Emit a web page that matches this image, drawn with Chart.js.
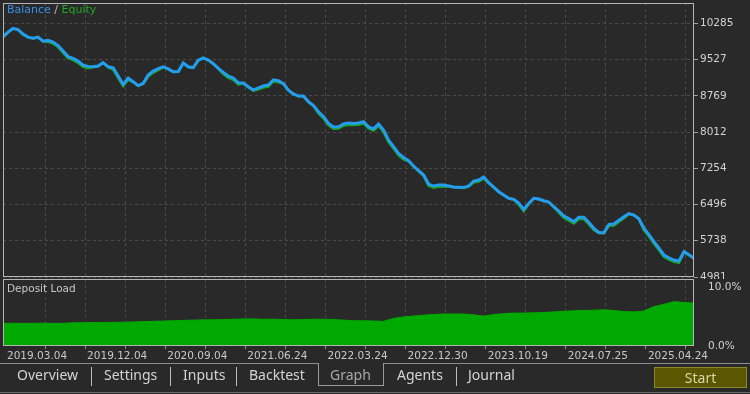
<!DOCTYPE html>
<html>
<head>
<meta charset="utf-8">
<title>Graph</title>
<script src="https://cdn.jsdelivr.net/npm/chart.js@4.4.1/dist/chart.umd.min.js"></script>
<style>
    body {
        margin: 0;
        width: 750px;
        height: 394px;
        overflow: hidden;
        position: relative;
        background: #292929;
        font-family: "Noto Sans", sans-serif;
    }
    #main { position: absolute; left: 0; top: 0; }
    #load { position: absolute; left: 0; top: 279px; background: #292929; }
    .caption { position: absolute; font-family: "DejaVu Sans"; white-space: nowrap; }
    .tab { position: absolute; top: 365px; font-size: 14px; line-height: 20px; color: #d4d4d4; white-space: nowrap; }
    .sep { position: absolute; top: 367px; width: 1px; height: 19px; background: #bdbdbd; }
    #tabline { position: absolute; left: 0; top: 363px; width: 750px; height: 1px; background: #8c8c8c; }
    #graphtab { position: absolute; left: 318px; top: 363px; width: 64px; height: 22px; border: 1px solid #9a9a9a; border-top: none; background: #292929; }
    #bottomline { position: absolute; left: 0; top: 392px; width: 750px; height: 1px; background: #6a6a6a; }
    #start { position: absolute; left: 654px; top: 367px; width: 91px; height: 19px; background: #5a5700; border: 1px solid #8e8b26;
             color: #d9d6a8; font-size: 14px; line-height: 19px; text-align: center; }
</style>
</head>
<body>
<canvas id="main" width="750" height="280"></canvas>
<canvas id="load" width="750" height="80"></canvas>

<div class="caption" style="left:7px; top:3px; font-size:11px;">
    <span style="color:#3b8fe2">Balance</span><span style="color:#bdbdbd"> / </span><span style="color:#22a822">Equity</span>
</div>
<div class="caption" style="left:7px; top:282px; font-size:10.5px; color:#c8c8c8;">Deposit Load</div>

<div id="tabline"></div>
<div id="graphtab"></div>
<span class="tab" style="left:17px">Overview</span>
<div class="sep" style="left:91px"></div>
<span class="tab" style="left:104px">Settings</span>
<div class="sep" style="left:170px"></div>
<span class="tab" style="left:183px">Inputs</span>
<div class="sep" style="left:236px"></div>
<span class="tab" style="left:249px">Backtest</span>
<span class="tab" style="left:330px; color:#a8a8a8">Graph</span>
<span class="tab" style="left:397px">Agents</span>
<div class="sep" style="left:456px"></div>
<span class="tab" style="left:468px">Journal</span>
<div id="start">Start</div>
<div id="bottomline"></div>

<script>
    // balance curve, one value per step
    const balance = [
        10003, 10102, 10179, 10154, 10060, 9997, 9976, 9997, 9913, 9928,
        9893, 9819, 9704, 9589, 9552, 9495, 9412, 9385, 9376, 9391,
        9464, 9376, 9355, 9182, 9008, 9140, 9063, 8983, 9029, 9203,
        9286, 9339, 9376, 9332, 9272, 9276, 9454, 9376, 9360, 9516,
        9564, 9516, 9443, 9343, 9259, 9182, 9140, 9042, 9036, 8958,
        8889, 8937, 8973, 8994, 9105, 9084, 9025, 8889, 8810, 8764,
        8764, 8645, 8565, 8436, 8335, 8193, 8116, 8122, 8179, 8200,
        8193, 8200, 8227, 8122, 8078, 8179, 8053, 7844, 7708, 7566,
        7479, 7412, 7301, 7203, 7113, 6925, 6883, 6904, 6904, 6883,
        6862, 6856, 6850, 6883, 6987, 7008, 7071, 6952, 6858, 6764,
        6695, 6626, 6605, 6528, 6396, 6517, 6626, 6611, 6576, 6549,
        6450, 6360, 6256, 6202, 6137, 6229, 6229, 6122, 5999, 5913,
        5907, 6082, 6089, 6166, 6241, 6306, 6277, 6200, 5999, 5869,
        5719, 5583, 5441, 5380, 5336, 5315, 5510, 5445, 5372
    ];

    // equity: mostly on the balance, dipping just under it in places
    const equity = [
        9998, 10097, 10174, 10149, 10055, 9992, 9971, 9992, 9908, 9898,
        9863, 9789, 9674, 9559, 9517, 9460, 9377, 9350, 9371, 9386,
        9459, 9371, 9320, 9147, 8973, 9105, 9058, 8978, 9024, 9173,
        9256, 9309, 9371, 9327, 9267, 9271, 9449, 9371, 9355, 9511,
        9559, 9511, 9438, 9338, 9224, 9147, 9105, 9007, 9026, 8948,
        8879, 8907, 8943, 8964, 9075, 9054, 9020, 8884, 8805, 8759,
        8759, 8640, 8560, 8401, 8300, 8158, 8081, 8087, 8144, 8165,
        8158, 8165, 8192, 8087, 8043, 8144, 8013, 7804, 7668, 7526,
        7439, 7402, 7291, 7193, 7103, 6890, 6848, 6869, 6869, 6878,
        6857, 6851, 6845, 6878, 6957, 6978, 7041, 6947, 6853, 6759,
        6690, 6621, 6600, 6493, 6361, 6512, 6621, 6606, 6571, 6544,
        6445, 6325, 6221, 6167, 6102, 6194, 6194, 6087, 5964, 5903,
        5897, 6052, 6059, 6136, 6211, 6301, 6272, 6195, 5964, 5834,
        5684, 5548, 5406, 5345, 5301, 5280, 5505, 5440, 5367
    ];

    // deposit load in %, one value every two steps
    const depositLoad = [
        3.85, 3.85, 3.85, 3.85, 3.88, 3.85, 3.85, 3.95, 3.95, 3.98,
        4.0, 4.02, 4.05, 4.1, 4.15, 4.2, 4.25, 4.3, 4.35, 4.4,
        4.45, 4.45, 4.5, 4.55, 4.6, 4.6, 4.55, 4.55, 4.5, 4.45,
        4.5, 4.55, 4.55, 4.5, 4.4, 4.3, 4.3, 4.25, 4.2, 4.7,
        4.95, 5.1, 5.25, 5.35, 5.45, 5.45, 5.45, 5.3, 5.1, 5.35,
        5.5, 5.6, 5.6, 5.65, 5.7, 5.8, 5.9, 6.0, 6.05, 6.1,
        6.15, 6.05, 5.85, 5.8, 5.95, 6.7, 7.1, 7.55, 7.4, 7.3
    ];

    const yTickValues = [4981, 5738.7, 6496.4, 7254.1, 8011.9, 8769.6, 9527.3, 10285];
    const yTickLabels = ['4981', '5738', '6496', '7254', '8012', '8769', '9527', '10285'];
    const loadTickValues = [0, 10];
    const loadTickLabels = ['0.0%', '10.0%'];
    const dateLabels = ['2019.03.04', '2019.12.04', '2020.09.04', '2021.06.24', '2022.03.24',
                        '2022.12.30', '2023.10.19', '2024.07.25', '2025.04.24'];

    // vertical grid every 8 steps, dates on every second line
    const gridSteps = [];
    for (let k = 0; k < 17; k++) gridSteps.push(8.4 + 8 * k);

    const lastStep = balance.length - 1;
    const gridColor = '#4a4a4a';
    const axisFont = { family: 'DejaVu Sans', size: 10.5 };

    // keep chart areas exactly where the panels are
    function fixWidth(s) { s.width = 56; s.paddingTop = 0; s.paddingBottom = 0; }
    function fixHeight(h) {
        return s => { s.height = h; s.paddingLeft = 0; s.paddingRight = 0; };
    }

    // light frame round each panel
    const frame = {
        id: 'frame',
        afterDraw(chart) {
            const { ctx, chartArea: a } = chart;
            ctx.save();
            ctx.strokeStyle = '#b5b5b5';
            ctx.lineWidth = 1;
            ctx.strokeRect(a.left + 0.5, a.top + 0.5, a.right - a.left - 1, a.bottom - a.top - 1);
            ctx.restore();
        }
    };

    // first dataset is painted last, so balance goes first to sit on top
    new Chart(document.getElementById('main'), {
        type: 'line',
        data: {
            datasets: [
                {
                    label: 'Balance',
                    data: balance.map((v, i) => ({ x: i, y: v })),
                    borderColor: '#249cf0',
                    borderWidth: 3,
                    pointRadius: 0
                },
                {
                    label: 'Equity',
                    data: equity.map((v, i) => ({ x: i, y: v })),
                    borderColor: '#19a319',
                    borderWidth: 2.6,
                    pointRadius: 0
                }
            ]
        },
        options: {
            responsive: false,
            animation: false,
            events: [],
            layout: { padding: { left: 3, top: 3, right: 0, bottom: 3 } },
            plugins: { legend: { display: false }, tooltip: { enabled: false } },
            scales: {
                x: {
                    type: 'linear',
                    min: 0,
                    max: lastStep,
                    afterBuildTicks: s => { s.ticks = gridSteps.map(v => ({ value: v })); },
                    afterFit: fixHeight(0),
                    ticks: { display: false },
                    grid: { color: gridColor, drawTicks: false },
                    border: { display: false, dash: [3, 3] }
                },
                y: {
                    position: 'right',
                    min: 4981,
                    max: 10710,
                    afterBuildTicks: s => { s.ticks = yTickValues.map(v => ({ value: v })); },
                    afterFit: fixWidth,
                    ticks: {
                        color: '#d2d2d2',
                        font: axisFont,
                        padding: 2,
                        autoSkip: false,
                        callback: (v, i) => yTickLabels[i]
                    },
                    grid: { color: gridColor, tickColor: '#9a9a9a', tickLength: 4 },
                    border: { display: false, dash: [3, 3] }
                }
            }
        },
        plugins: [frame]
    });

    new Chart(document.getElementById('load'), {
        type: 'line',
        data: {
            datasets: [{
                label: 'Deposit Load',
                data: depositLoad.map((v, j) => ({ x: j * 2, y: v })),
                fill: 'origin',
                backgroundColor: '#00a900',
                borderColor: '#00a900',
                borderWidth: 1,
                pointRadius: 0
            }]
        },
        options: {
            responsive: false,
            animation: false,
            events: [],
            layout: { padding: { left: 3, top: 0, right: 0, bottom: 0 } },
            plugins: { legend: { display: false }, tooltip: { enabled: false } },
            scales: {
                x: {
                    type: 'linear',
                    min: 0,
                    max: lastStep,
                    afterBuildTicks: s => { s.ticks = gridSteps.map(v => ({ value: v })); },
                    afterFit: fixHeight(13),
                    ticks: {
                        color: '#c8c8c8',
                        font: axisFont,
                        padding: 1,
                        maxRotation: 0,
                        autoSkip: false,
                        labelOffset: -8,
                        callback: (v, i) => (i % 2 === 0 ? dateLabels[i / 2] : '')
                    },
                    grid: { color: gridColor, tickColor: '#8a8a8a', tickLength: 3 },
                    border: { display: false, dash: [3, 3] }
                },
                y: {
                    position: 'right',
                    min: 0,
                    max: 11.4,
                    afterBuildTicks: s => { s.ticks = loadTickValues.map(v => ({ value: v })); },
                    afterFit: fixWidth,
                    ticks: {
                        color: '#d2d2d2',
                        font: axisFont,
                        padding: 6,
                        autoSkip: false,
                        callback: (v, i) => loadTickLabels[i]
                    },
                    grid: { display: false },
                    border: { display: false }
                }
            }
        },
        plugins: [frame]
    });
</script>
</body>
</html>
